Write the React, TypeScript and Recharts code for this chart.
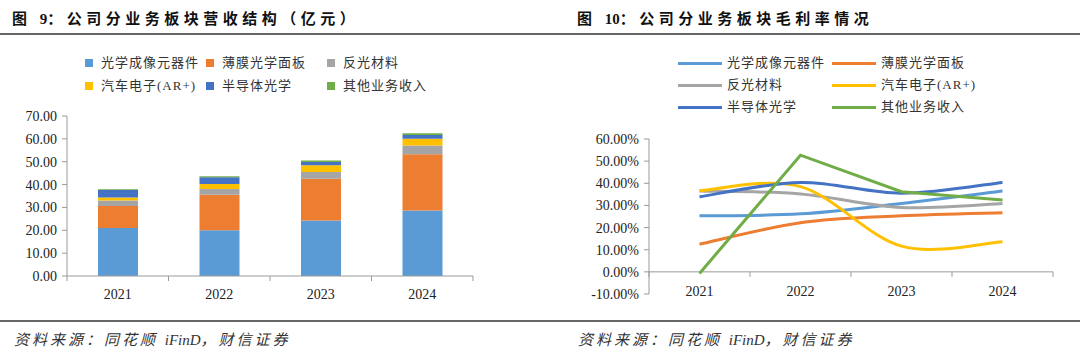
import { BarChart, Bar, LineChart, Line, XAxis, YAxis, ReferenceLine } from 'recharts';

const YEARS = ['2021', '2022', '2023', '2024'];

// revenue by segment (亿元)
const SEGMENTS = ['光学成像元器件', '薄膜光学面板', '反光材料', '汽车电子(AR+)', '半导体光学', '其他业务收入'];
const COLORS = ['#5B9BD5', '#ED7D31', '#A5A5A5', '#FFC000', '#4472C4', '#70AD47'];

const REV_IMAGING = [21.0, 20.0, 24.3, 28.7];
const REV_FILM = [9.6, 15.6, 18.3, 24.6];
const REV_REFLECT = [2.4, 2.5, 2.9, 3.8];
const REV_AUTO = [1.3, 2.2, 3.0, 2.9];
const REV_SEMI = [3.3, 2.9, 1.4, 1.7];
const REV_OTHER = [0.3, 0.4, 0.6, 0.8];

// gross margin by segment (%)
const GM_IMAGING = [25.3, 26.2, 30.9, 36.5];
const GM_FILM = [12.5, 22.2, 25.3, 26.7];
const GM_REFLECT = [36.5, 35.2, 29.1, 30.9];
const GM_AUTO = [36.7, 38.5, 11.6, 13.6];
const GM_SEMI = [33.9, 40.4, 35.5, 40.4];
const GM_OTHER = [-0.7, 52.7, 36.2, 32.4];

const REV_TICKS = [0, 10, 20, 30, 40, 50, 60, 70];
const GM_TICKS = [-10, 0, 10, 20, 30, 40, 50, 60];

const revSeries = [REV_IMAGING, REV_FILM, REV_REFLECT, REV_AUTO, REV_SEMI, REV_OTHER];
const gmSeries = [GM_IMAGING, GM_FILM, GM_REFLECT, GM_AUTO, GM_SEMI, GM_OTHER];

const revData = YEARS.map((year, i) => {
  const row: Record<string, string | number> = { year };
  revSeries.forEach((s, k) => (row['s' + k] = s[i]));
  return row;
});
const gmData = YEARS.map((year, i) => {
  const row: Record<string, string | number> = { year };
  gmSeries.forEach((s, k) => (row['s' + k] = s[i]));
  return row;
});

const SERIF = '"Liberation Serif", "Noto Sans CJK SC", serif';
const AXIS = '#9a9a9a';

// excel-like smoothed line (catmull-rom through every point)
function excelSmooth(context: any) {
  let xs: number[] = [];
  let ys: number[] = [];
  return {
    areaStart() {},
    areaEnd() {},
    lineStart() {
      xs = [];
      ys = [];
    },
    point(x: number, y: number) {
      xs.push(+x);
      ys.push(+y);
    },
    lineEnd() {
      const n = xs.length;
      if (!n) return;
      context.moveTo(xs[0], ys[0]);
      for (let i = 0; i < n - 1; i++) {
        const a = Math.max(i - 1, 0);
        const d = Math.min(i + 2, n - 1);
        context.bezierCurveTo(
          xs[i] + (xs[i + 1] - xs[a]) / 6,
          ys[i] + (ys[i + 1] - ys[a]) / 6,
          xs[i + 1] - (xs[d] - xs[i]) / 6,
          ys[i + 1] - (ys[d] - ys[i]) / 6,
          xs[i + 1],
          ys[i + 1],
        );
      }
    },
  };
}

// category tick: label plus tick marks on the category boundaries
function CatTick({ x, y, payload, index, lineY, textY, band }: any) {
  const off = band ?? payload.offset ?? 0;
  return (
    <g>
      {index === 0 && <line x1={x - off} x2={x - off} y1={y + lineY} y2={y + lineY + 5} stroke={AXIS} />}
      <line x1={x + off} x2={x + off} y1={y + lineY} y2={y + lineY + 5} stroke={AXIS} />
      <text x={x} y={y + textY} textAnchor="middle" dominantBaseline="central" fill="#222" fontSize={14} fontFamily={SERIF}>
        {payload.value}
      </text>
    </g>
  );
}

const tight: React.CSSProperties = { letterSpacing: 0 };

const titleStyle: React.CSSProperties = {
  position: 'absolute',
  top: 7,
  fontFamily: SERIF,
  fontWeight: 700,
  fontSize: 15,
  letterSpacing: 4.5,
  color: '#111',
  whiteSpace: 'nowrap',
};
const sourceStyle: React.CSSProperties = {
  position: 'absolute',
  top: 328,
  fontFamily: SERIF,
  fontStyle: 'italic',
  fontSize: 15,
  letterSpacing: 3,
  color: '#333',
  whiteSpace: 'nowrap',
};
const legendText: React.CSSProperties = {
  position: 'absolute',
  fontFamily: SERIF,
  fontSize: 13,
  letterSpacing: 1,
  color: '#333',
  whiteSpace: 'nowrap',
  lineHeight: '16px',
};

const LEFT_COLS = [89, 210, 331];
const LEFT_ROWS = [63, 86];
const RIGHT_COLS = [678, 832];
const RIGHT_ROWS = [63, 85, 107];

function Source({ left }: { left: number }) {
  return (
    <div style={{ ...sourceStyle, left }}>
      资料来源：同花顺 <span style={tight}>iFinD</span>，财信证券
    </div>
  );
}

export default function App() {
  const gmPlotW = 540 - 109 - 27;
  const gmPlotH = 155;
  const half = gmPlotW / YEARS.length / 2;
  const zeroOff = -(gmPlotH * 10) / 70;

  return (
    <div style={{ position: 'relative', width: 1080, height: 359, background: '#fff', overflow: 'hidden' }}>
      <style>{'body{margin:0}'}</style>

      <div style={{ ...titleStyle, left: 12 }}>
        图 <span style={tight}>9</span>：公司分业务板块营收结构（亿元）
      </div>
      <div style={{ ...titleStyle, left: 577 }}>
        图 <span style={tight}>10</span>：公司分业务板块毛利率情况
      </div>
      <div style={{ position: 'absolute', left: 0, top: 33, width: 1080, height: 2, background: '#666' }} />
      <div style={{ position: 'absolute', left: 0, top: 320, width: 1080, height: 2, background: '#666' }} />
      <Source left={14} />
      <Source left={578} />

      {SEGMENTS.map((name, k) => {
        const cx = LEFT_COLS[k % 3];
        const cy = LEFT_ROWS[Math.floor(k / 3)];
        return (
          <div key={'lb' + k}>
            <div style={{ position: 'absolute', left: cx - 4, top: cy - 4, width: 8, height: 8, background: COLORS[k] }} />
            <div style={{ ...legendText, left: cx + 12, top: cy - 8 }}>{name}</div>
          </div>
        );
      })}

      {SEGMENTS.map((name, k) => {
        const lx = RIGHT_COLS[k % 2];
        const ly = RIGHT_ROWS[Math.floor(k / 2)];
        return (
          <div key={'ll' + k}>
            <div style={{ position: 'absolute', left: lx, top: ly - 1.5, width: 44, height: 3, background: COLORS[k] }} />
            <div style={{ ...legendText, left: lx + 49, top: ly - 8 }}>{name}</div>
          </div>
        );
      })}

      <div style={{ position: 'absolute', left: 0, top: 100 }}>
        <BarChart width={540} height={206} data={revData} margin={{ top: 16, right: 67, left: 0, bottom: 0 }} barSize={40}>
          <YAxis
            width={67}
            domain={[0, 70]}
            ticks={REV_TICKS}
            tickFormatter={(v: number) => v.toFixed(2)}
            tick={{ fill: '#222', fontSize: 14, fontFamily: SERIF }}
            axisLine={{ stroke: AXIS }}
            tickLine={{ stroke: AXIS }}
            tickSize={5}
            tickMargin={5}
          />
          <XAxis
            dataKey="year"
            height={30}
            axisLine={{ stroke: AXIS }}
            tickLine={false}
            tickSize={0}
            tickMargin={0}
            tick={<CatTick lineY={0} textY={18} />}
          />
          {SEGMENTS.map((name, k) => (
            <Bar key={name} dataKey={'s' + k} name={name} stackId="rev" fill={COLORS[k]} isAnimationActive={false} />
          ))}
        </BarChart>
      </div>

      <div style={{ position: 'absolute', left: 540, top: 120 }}>
        <LineChart width={540} height={200} data={gmData} margin={{ top: 19, right: 27, left: 0, bottom: 0 }}>
          <YAxis
            width={109}
            domain={[-10, 60]}
            ticks={GM_TICKS}
            tickFormatter={(v: number) => v.toFixed(2) + '%'}
            tick={{ fill: '#222', fontSize: 14, fontFamily: SERIF }}
            axisLine={{ stroke: AXIS }}
            tickLine={{ stroke: AXIS }}
            tickSize={5}
            tickMargin={5}
          />
          <XAxis
            dataKey="year"
            height={26}
            padding={{ left: half, right: half }}
            axisLine={false}
            tickLine={false}
            tickSize={0}
            tickMargin={0}
            tick={<CatTick lineY={zeroOff} textY={-3} band={half} />}
          />
          <ReferenceLine y={0} stroke={AXIS} />
          {SEGMENTS.map((name, k) => (
            <Line
              key={name}
              dataKey={'s' + k}
              name={name}
              type={k === 5 ? 'linear' : (excelSmooth as any)}
              stroke={COLORS[k]}
              strokeWidth={3}
              dot={false}
              activeDot={false}
              isAnimationActive={false}
            />
          ))}
        </LineChart>
      </div>
    </div>
  );
}
